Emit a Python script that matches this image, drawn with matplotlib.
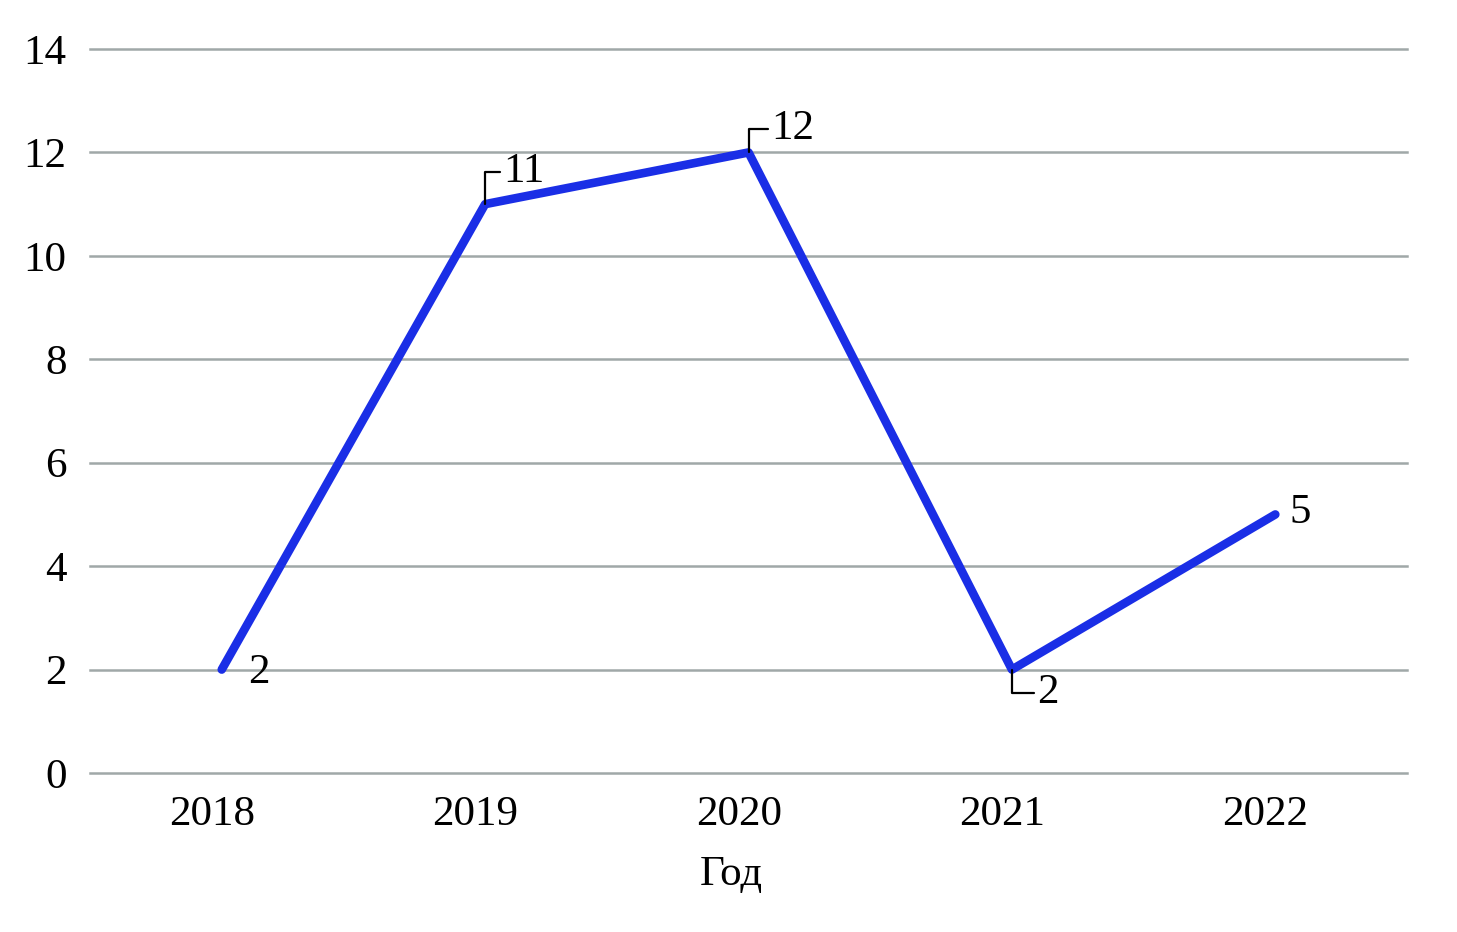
import matplotlib
matplotlib.use("Agg")
import matplotlib.pyplot as plt
import matplotlib.transforms as mtransforms

years = ["2018", "2019", "2020", "2021", "2022"]
values = [2, 11, 12, 2, 5]
yticks = [0, 2, 4, 6, 8, 10, 12, 14]

# label offsets in points and whether a leader line is drawn
label_offsets = [(19, -2), (13, 23), (16, 17), (18, -17), (10, 1)]
label_leaders = [False, True, True, True, False]

plt.rcParams['font.family'] = ['Liberation Serif', 'DejaVu Serif']
FS = 31

fig = plt.figure(figsize=(14.57, 9.32), dpi=100)
ax = fig.add_axes([0.0618, 0.1706, 0.9039, 0.7768])

x = list(range(len(years)))
ax.plot(x, values, color='#1a2ee6', linewidth=6.2, solid_capstyle='round', zorder=3)

for xi, v, off, lead in zip(x, values, label_offsets, label_leaders):
    props = None
    if lead:
        props = dict(arrowstyle='-', color='black', lw=1.6, shrinkA=0, shrinkB=0,
                     relpos=(0, 0.5), connectionstyle='angle,angleA=0,angleB=90,rad=0')
    ax.annotate(str(v), xy=(xi, v), xytext=off, textcoords='offset points',
                ha='left', va='center', fontsize=FS, arrowprops=props, zorder=4)

ax.set_xlim(-0.5, len(years) - 0.5)
ax.set_ylim(0, 14)
ax.set_yticks(yticks)
ax.set_xticks(x)
ax.set_xticklabels(years)
ax.tick_params(axis='both', length=0, labelsize=FS)
ax.tick_params(axis='x', pad=16)
ax.tick_params(axis='y', pad=17)
ax.yaxis.grid(True, color='#a0a8a8', linewidth=1.8)
for gl in ax.get_ygridlines():
    gl.set_clip_on(False)
ax.set_axisbelow(True)
for s in ax.spines.values():
    s.set_visible(False)

# year labels sit a little left of the category centre in the original
shift = mtransforms.ScaledTranslation(-7 / 72, 0, fig.dpi_scale_trans)
for lab in ax.get_xticklabels():
    lab.set_transform(lab.get_transform() + shift)

ax.set_xlabel('Год', fontsize=FS, labelpad=13)
ax.xaxis.set_label_coords(0.487, -0.114)

fig.savefig('out.png', dpi=100)
